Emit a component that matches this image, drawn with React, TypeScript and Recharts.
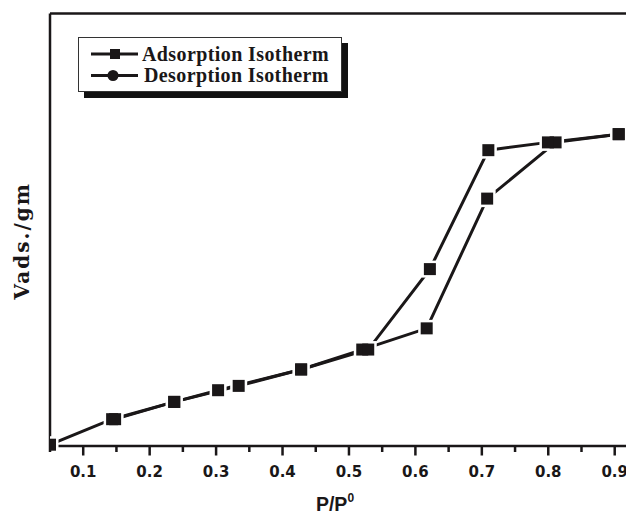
import React from 'react';
import { ComposedChart, Line, Scatter, XAxis, YAxis, ReferenceLine, Legend } from 'recharts';

// P/P0 values and adsorbed volume (arbitrary units, axis has no numbers)
const adsorptionX = [0.05, 0.1435, 0.237, 0.303, 0.428, 0.52, 0.617, 0.708, 0.811, 0.906];
const adsorptionY = [0.3, 6.2, 10.2, 12.9, 17.7, 22.3, 27.2, 57.2, 70.2, 72.1];
const desorptionX = [0.906, 0.7995, 0.7098, 0.6218, 0.529, 0.428, 0.334, 0.237, 0.148];
const desorptionY = [72.1, 70.2, 68.4, 40.9, 22.3, 17.7, 13.9, 10.2, 6.2];

const majorTicks = [0.1, 0.2, 0.3, 0.4, 0.5, 0.6, 0.7, 0.8, 0.9];
const minorTicks = [0.05, 0.15, 0.25, 0.35, 0.45, 0.55, 0.65, 0.75, 0.85];
const seriesNames = ['Adsorption Isotherm', 'Desorption Isotherm'];

const adsorption = adsorptionX.map((x, i) => ({ x, y: adsorptionY[i] }));
const desorption = desorptionX.map((x, i) => ({ x, y: desorptionY[i] }));
const allPoints = [...adsorption, ...desorption];
const allTicks = [...minorTicks, ...majorTicks].sort((a, b) => a - b);

const INK = '#1a1718';

const HaloShape = (props: any) => {
  const { cx, cy } = props;
  if (cx == null || cy == null) return <g />;
  return <rect x={cx - 8.5} y={cy - 8.5} width={17} height={17} fill="#fff" />;
};

const SquareShape = (props: any) => {
  const { cx, cy } = props;
  if (cx == null || cy == null) return <g />;
  return <rect x={cx - 6} y={cy - 6} width={12} height={12} fill={INK} />;
};

const XTick = (props: any) => {
  const { x, y, payload } = props;
  const v = payload.value;
  const major = majorTicks.some((m) => Math.abs(m - v) < 1e-6);
  return (
    <g>
      <line x1={x} x2={x} y1={y} y2={y + (major ? 9.5 : 6)} stroke={INK} strokeWidth={2.5} />
      {major && (
        <text
          x={x}
          y={y + 31}
          textAnchor="middle"
          fontFamily="'DejaVu Sans', sans-serif"
          fontWeight="bold"
          fontSize={15}
          fill={INK}
        >
          {v.toFixed(1)}
        </text>
      )}
    </g>
  );
};

const YLabel = (props: any) => {
  const vb = props.viewBox || { x: 0, y: 13, width: 50, height: 433 };
  const x = vb.x + vb.width - 21;
  const y = vb.y + vb.height / 2 + 11;
  return (
    <text
      x={x}
      y={y}
      transform={`rotate(-90, ${x}, ${y})`}
      textAnchor="middle"
      fontFamily="'DejaVu Serif', serif"
      fontWeight="bold"
      fontSize={20}
      letterSpacing={2}
      fill={INK}
    >
      Vads./gm
    </text>
  );
};

const XLabel = (props: any) => {
  const vb = props.viewBox || { x: 50, y: 446, width: 578, height: 67 };
  const cx = vb.x + vb.width / 2 - 4;
  return (
    <text
      x={cx}
      y={vb.y + 65}
      textAnchor="middle"
      fontFamily="'Liberation Sans', Arial, sans-serif"
      fontWeight="bold"
      fontSize={19.5}
      fill={INK}
    >
      P/P
      <tspan dy={-9} fontSize={12}>0</tspan>
    </text>
  );
};

const LegendBox = () => (
  <div
    style={{
      width: 262,
      height: 53,
      border: '1px solid #333',
      background: '#fff',
      boxShadow: '6px 6px 0 #111',
      position: 'relative',
    }}
  >
    <svg width={262} height={53} style={{ display: 'block' }}>
      {seriesNames.map((name, i) => {
        const cy = i === 0 ? 16 : 37.5;
        return (
          <g key={name}>
            <line x1={12} x2={59} y1={cy} y2={cy} stroke={INK} strokeWidth={3} />
            {i === 0 ? (
              <rect x={31} y={cy - 5} width={10} height={10} fill={INK} />
            ) : (
              <circle cx={34} cy={cy} r={5.5} fill={INK} />
            )}
            <text
              x={i === 0 ? 63 : 65}
              y={cy + 6.5}
              fontFamily="'Liberation Serif', 'Times New Roman', serif"
              fontWeight="bold"
              fontSize={20}
              letterSpacing={0.4}
              fill={INK}
            >
              {name}
            </text>
          </g>
        );
      })}
    </svg>
  </div>
);

export default function App() {
  return (
    <div
      style={{
        position: 'absolute',
        left: 0,
        top: 0,
        width: 626,
        height: 513,
        overflow: 'hidden',
        background: '#fff',
      }}
    >
      <ComposedChart width={640} height={513} margin={{ top: 13.5, right: 12, bottom: 0, left: 0 }}>
        <XAxis
          type="number"
          dataKey="x"
          domain={[0.05, 0.92]}
          ticks={allTicks}
          tick={<XTick />}
          tickSize={0}
          tickMargin={0}
          tickLine={false}
          interval={0}
          height={67}
          axisLine={{ stroke: INK, strokeWidth: 2.5 }}
          allowDataOverflow
          label={<XLabel />}
        />
        <YAxis
          type="number"
          dataKey="y"
          domain={[0, 100]}
          width={50}
          tick={false}
          tickLine={false}
          axisLine={{ stroke: INK, strokeWidth: 2.5 }}
          label={<YLabel />}
        />
        <ReferenceLine y={100} stroke={INK} strokeWidth={2.5} />
        <Legend
          verticalAlign="middle"
          align="center"
          layout="horizontal"
          wrapperStyle={{ left: 78, top: 37, width: 264, height: 55 }}
          content={() => <LegendBox />}
        />
        <Line
          data={adsorption}
          dataKey="y"
          name={seriesNames[0]}
          type="linear"
          stroke={INK}
          strokeWidth={3}
          dot={false}
          activeDot={false}
          isAnimationActive={false}
        />
        <Line
          data={desorption}
          dataKey="y"
          name={seriesNames[1]}
          type="linear"
          stroke={INK}
          strokeWidth={3}
          dot={false}
          activeDot={false}
          isAnimationActive={false}
        />
        <Scatter
          data={allPoints}
          dataKey="y"
          shape={HaloShape}
          legendType="none"
          isAnimationActive={false}
        />
        <Scatter
          data={allPoints}
          dataKey="y"
          shape={SquareShape}
          legendType="none"
          isAnimationActive={false}
        />
      </ComposedChart>
    </div>
  );
}
